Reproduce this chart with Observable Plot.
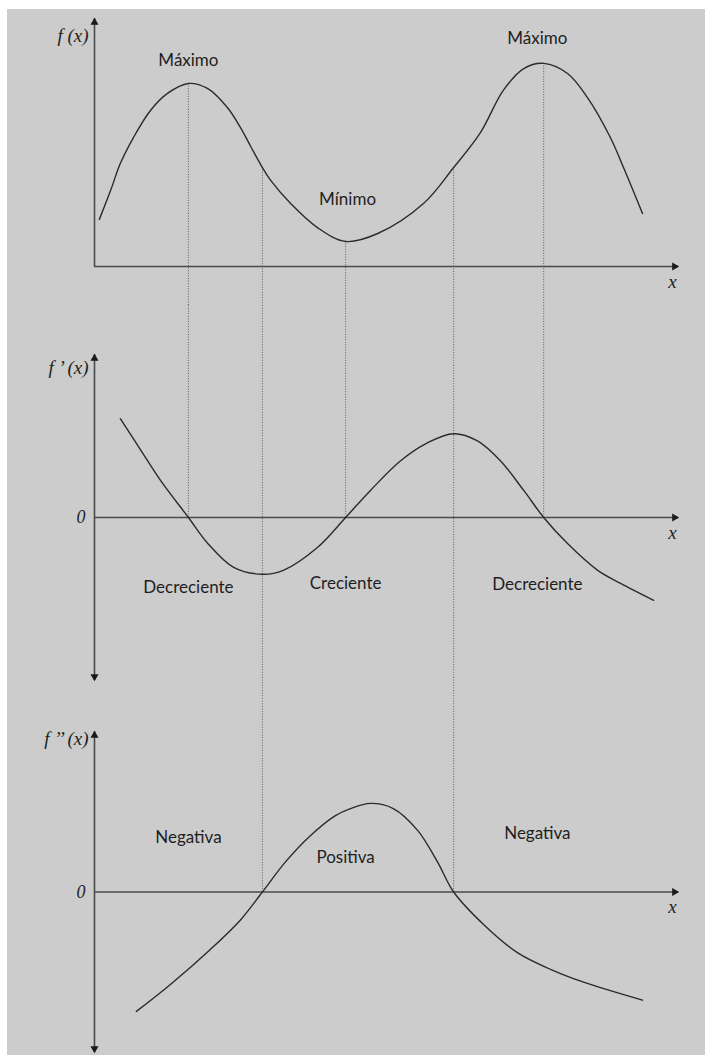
<!DOCTYPE html>
<html>
<head>
<meta charset="utf-8">
<script src="https://cdn.jsdelivr.net/npm/d3@7"></script>
<script src="https://cdn.jsdelivr.net/npm/@observablehq/plot@0.6"></script>
<style>
  html, body { margin: 0; padding: 0; background: #ffffff; }
  #sheet { position: absolute; left: 7px; top: 9px; width: 698px; height: 1046px; background: #cccccc; }
  #sheet svg { display: block; }
</style>
</head>
<body>
<div id="sheet"></div>
<script>
// f(x): two maxima around a minimum
const fX = [0.10, 0.33, 0.53, 0.80, 1.15, 1.50, 1.93, 2.32, 2.73, 3.00, 3.21, 3.45, 3.62, 4.03, 4.58, 5.16, 5.82, 6.76, 7.38, 7.93, 8.40, 8.82, 9.23, 9.72, 10.13, 10.60, 10.87, 11.26];
const fY = [1.90, 3.06, 4.15, 5.20, 6.29, 6.98, 7.38, 7.18, 6.41, 5.60, 4.84, 3.99, 3.47, 2.54, 1.57, 1.01, 1.33, 2.54, 3.99, 5.40, 7.10, 7.98, 8.19, 7.78, 6.81, 5.20, 3.99, 2.14];

// f'(x): first derivative
const d1X = [0.53, 0.95, 1.36, 1.93, 2.32, 2.86, 3.45, 3.88, 4.58, 5.16, 5.67, 6.29, 6.84, 7.38, 7.87, 8.34, 8.82, 9.23, 9.72, 10.34, 10.81, 11.49];
const d1Y = [3.03, 2.07, 1.13, 0, -0.78, -1.53, -1.74, -1.62, -0.92, 0, 0.83, 1.74, 2.29, 2.57, 2.35, 1.74, 0.83, 0, -0.80, -1.62, -2.02, -2.54];

// f''(x): second derivative
const d2X = [0.86, 1.56, 2.38, 3.00, 3.45, 3.92, 4.44, 4.95, 5.26, 5.67, 6.14, 6.64, 7.05, 7.38, 8.00, 8.69, 9.37, 10.05, 11.26];
const d2Y = [-3.72, -2.88, -1.79, -0.87, 0, 0.93, 1.76, 2.38, 2.60, 2.76, 2.60, 1.92, 0.93, 0, -1.02, -1.89, -2.41, -2.81, -3.37];

// Extrema of f (zeros of f') and inflection points (zeros of f'')
const extremaX = [1.93, 5.16, 9.23];
const inflectionX = [3.45, 7.38];

// Annotations
const fLabels = ["Máximo", "Mínimo", "Máximo"];
const fLabelX = [1.93, 5.20, 9.10];
const fLabelY = [8.31, 2.70, 9.19];

const d1Labels = ["Decreciente", "Creciente", "Decreciente"];
const d1LabelX = [1.93, 5.16, 9.10];
const d1LabelY = [-2.14, -2.02, -2.05];

const d2Labels = ["Negativa", "Positiva", "Negativa"];
const d2LabelX = [1.93, 5.16, 9.10];
const d2LabelY = [1.70, 1.08, 1.83];

const axisNames = ["f (x)", "f \u2019 (x)", "f \u2019\u2019 (x)"];
const axisNameY = [9.31, 4.59, 4.77];
const xName = "x";
const zeroName = "0";

const X_MAX = 12;
const WIDTH = 698;
const INK = "#2b2b2b";
const AXIS = "#4a4a4a";
const GUIDE = "#5a5a5a";
const labelFont = "Lato, 'Open Sans', sans-serif";
const mathFont = "'Liberation Serif', 'DejaVu Serif', serif";

const zip = (xs, ys) => xs.map((x, i) => ({x, y: ys[i]}));
const labelRows = (texts, xs, ys) => texts.map((t, i) => ({t, x: xs[i], y: ys[i]}));

function panel({curve, yDomain, height, marginTop, marginBottom, guides, labels, name, nameY, bothWays}) {
  const [lo, hi] = yDomain;
  const marks = [
    // dotted guides
    Plot.ruleX(guides, {x: "x", y1: "y1", y2: "y2", stroke: GUIDE, strokeWidth: 1, strokeDasharray: "1,1.6"}),
    // axes
    Plot.ruleY([0], {x1: 0, x2: X_MAX, stroke: AXIS, strokeWidth: 1.6}),
    Plot.ruleX([0], {y1: bothWays ? lo : 0, y2: hi, stroke: AXIS, strokeWidth: 1.6}),
    Plot.dot([{x: 0, y: hi}], {x: "x", y: "y", symbol: "triangle", r: 3, fill: "#1a1a1a", stroke: "none", dy: 4}),
    Plot.dot([{x: X_MAX, y: 0}], {x: "x", y: "y", symbol: "triangle", r: 3, rotate: 90, fill: "#1a1a1a", stroke: "none", dx: -4}),
    // curve
    Plot.line(curve, {x: "x", y: "y", curve: "catmull-rom", stroke: INK, strokeWidth: 1.4}),
    // annotations
    Plot.text(labels, {x: "x", y: "y", text: "t", fontFamily: labelFont, fontSize: 17, fill: "#1e1e1e"}),
    Plot.text([{t: name, y: nameY}], {x: () => 0, y: "y", text: "t", textAnchor: "end", dx: -6, fontFamily: mathFont, fontStyle: "italic", fontSize: 19, fill: "#1e1e1e"}),
    Plot.text([xName], {x: () => X_MAX, y: () => 0, text: d => d, dx: -6, dy: 15, fontFamily: mathFont, fontStyle: "italic", fontSize: 19, fill: "#1e1e1e"})
  ];
  if (bothWays) {
    marks.push(
      Plot.dot([{x: 0, y: lo}], {x: "x", y: "y", symbol: "triangle", r: 3, rotate: 180, fill: "#1a1a1a", stroke: "none", dy: -4}),
      Plot.text([zeroName], {x: () => 0, y: () => 0, text: d => d, textAnchor: "end", dx: -9, fontFamily: mathFont, fontStyle: "italic", fontSize: 18, fill: "#1e1e1e"})
    );
  }
  return Plot.plot({
    width: WIDTH,
    height,
    marginLeft: 87,
    marginRight: WIDTH - 87 - 584,
    marginTop,
    marginBottom,
    x: {domain: [0, X_MAX], axis: null},
    y: {domain: yDomain, axis: null},
    style: {background: "transparent", overflow: "hidden"},
    marks
  });
}

const valueAt = (xs, ys, x) => ys[xs.indexOf(x)];
const critical = [...extremaX, ...inflectionX].sort((a, b) => a - b);

const sheet = document.getElementById("sheet");

// Panel 1: f(x)
sheet.append(panel({
  curve: zip(fX, fY),
  yDomain: [0, 10],
  height: 296, marginTop: 9, marginBottom: 39,
  guides: critical.map(x => ({x, y1: valueAt(fX, fY, x), y2: -20})),
  labels: labelRows(fLabels, fLabelX, fLabelY),
  name: axisNames[0], nameY: axisNameY[0],
  bothWays: false
}));

// Panel 2: f'(x)
sheet.append(panel({
  curve: zip(d1X, d1Y),
  yDomain: [-5, 5],
  height: 395, marginTop: 49, marginBottom: 20,
  guides: [
    ...extremaX.map(x => ({x, y1: 0, y2: 50})),
    ...inflectionX.map(x => ({x, y1: -50, y2: 50}))
  ],
  labels: labelRows(d1Labels, d1LabelX, d1LabelY),
  name: axisNames[1], nameY: axisNameY[1],
  bothWays: true
}));

// Panel 3: f''(x)
sheet.append(panel({
  curve: zip(d2X, d2Y),
  yDomain: [-5, 5],
  height: 355, marginTop: 31, marginBottom: 3,
  guides: inflectionX.map(x => ({x, y1: 0, y2: 50})),
  labels: labelRows(d2Labels, d2LabelX, d2LabelY),
  name: axisNames[2], nameY: axisNameY[2],
  bothWays: true
}));
</script>
</body>
</html>
